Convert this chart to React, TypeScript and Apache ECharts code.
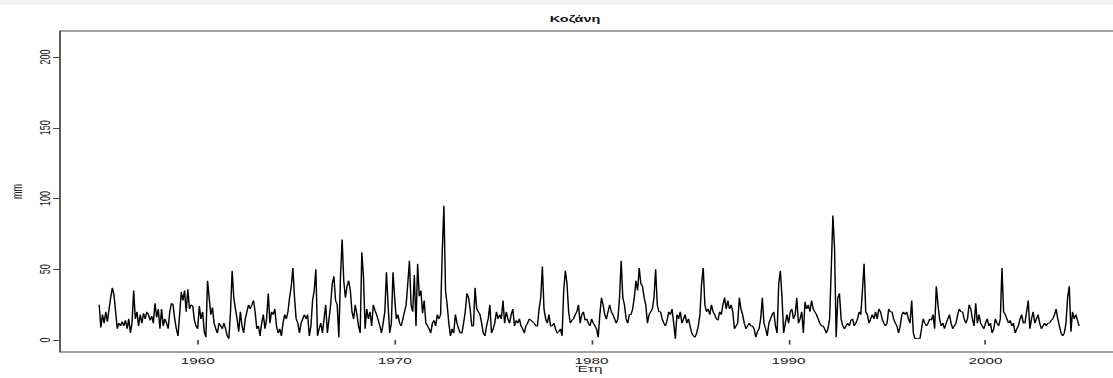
import React, { useEffect, useRef } from "react";
import * as echarts from "echarts";

// Monthly precipitation (mm), Kozani, starting January 1955
const startYear = 1955;

const rain1955_1964 = [
  25, 9, 18, 12, 20, 13, 22, 30, 37, 32, 20, 8,
  12, 10, 13, 10, 14, 8, 15, 5, 12, 35, 15, 20,
  10, 18, 12, 19, 15, 20, 18, 14, 17, 12, 26, 16,
  22, 8, 22, 10, 15, 12, 8, 20, 26, 25, 15, 8,
  3, 18, 34, 28, 35, 20, 36, 22, 25, 24, 14, 10,
  8, 24, 15, 20, 6, 2, 42, 30, 18, 23, 12, 8,
  5, 12, 10, 8, 12, 8, 3, 1, 20, 49, 30, 22,
  15, 6, 20, 10, 5, 15, 20, 25, 22, 25, 28, 20,
  8, 10, 3, 12, 18, 8, 15, 33, 12, 20, 18, 22,
  10, 5, 8, 3, 12, 18, 15, 20, 30, 38, 51, 30,
];

const rain1965_1974 = [
  15, 12, 5, 12, 15, 18, 15, 18, 3, 10, 28, 35,
  50, 3, 8, 12, 5, 15, 25, 5, 15, 25, 40, 45,
  28, 25, 2, 45, 71, 42, 30, 38, 42, 35, 20, 15,
  25, 18, 10, 5, 62, 45, 8, 22, 15, 20, 10, 25,
  21, 18, 14, 10, 5, 12, 20, 48, 25, 5, 12, 48,
  30, 15, 18, 12, 10, 15, 20, 25, 40, 56, 25, 20,
  46, 10, 54, 31, 35, 19, 28, 12, 10, 8, 5, 12,
  14, 10, 18, 15, 18, 62, 95, 35, 25, 12, 3, 8,
  5, 18, 12, 8, 5, 5, 12, 20, 33, 30, 22, 10,
  10, 37, 22, 20, 18, 12, 5, 3, 10, 15, 25, 5,
];

const rain1975_1984 = [
  8, 12, 20, 15, 18, 15, 28, 12, 20, 15, 12, 18,
  22, 10, 14, 12, 15, 10, 8, 5, 10, 12, 15, 14,
  13, 12, 10, 10, 22, 30, 52, 22, 15, 12, 18, 10,
  10, 12, 8, 5, 6, 8, 3, 35, 49, 40, 20, 12,
  14, 15, 18, 20, 25, 12, 18, 20, 14, 15, 12, 10,
  15, 12, 10, 8, 2, 18, 30, 25, 18, 15, 20, 25,
  20, 18, 15, 12, 15, 30, 56, 30, 25, 15, 12, 18,
  18, 22, 30, 42, 35, 51, 40, 38, 30, 25, 12, 18,
  20, 22, 30, 50, 25, 20, 20, 15, 12, 10, 14, 20,
  18, 22, 12, 1, 18, 15, 20, 12, 15, 18, 12, 15,
];

const rain1985_1994 = [
  10, 5, 3, 2, 5, 10, 18, 40, 51, 25, 20, 22,
  18, 25, 20, 18, 15, 14, 20, 18, 25, 30, 22, 28,
  22, 25, 20, 8, 10, 12, 30, 22, 18, 12, 8, 10,
  12, 10, 10, 8, 2, 6, 8, 15, 30, 12, 8, 3,
  12, 15, 18, 20, 10, 5, 40, 49, 30, 5, 12, 18,
  12, 20, 22, 15, 18, 30, 12, 15, 20, 5, 27, 22,
  25, 20, 28, 22, 20, 18, 15, 12, 10, 10, 8, 5,
  8, 15, 50, 88, 65, 2, 30, 33, 15, 10, 8, 10,
  12, 10, 14, 15, 10, 12, 15, 20, 18, 35, 54, 20,
  18, 12, 15, 18, 15, 20, 15, 22, 20, 15, 12, 10,
];

const rain1995_2004 = [
  12, 22, 20, 20, 15, 12, 10, 5, 10, 18, 20, 18,
  20, 15, 12, 28, 5, 1, 1, 1, 1, 8, 15, 12,
  10, 12, 15, 14, 18, 8, 38, 25, 15, 10, 12, 8,
  12, 15, 18, 12, 8, 10, 12, 18, 22, 20, 20, 15,
  12, 15, 25, 22, 15, 10, 26, 12, 18, 12, 10, 8,
  12, 15, 10, 12, 5, 8, 15, 12, 10, 15, 51, 20,
  18, 15, 12, 14, 10, 12, 5, 8, 10, 15, 18, 12,
  12, 20, 28, 8, 15, 20, 12, 15, 18, 12, 8, 10,
  12, 10, 12, 12, 14, 15, 18, 22, 15, 10, 5, 3,
  5, 12, 30, 38, 6, 20, 15, 18, 14, 10,
];

const xTicks = [1960, 1970, 1980, 1990, 2000];
const yTicks = [0, 50, 100, 150, 200];

const titleText = "Κοζάνη";
const xName = "Έτη";
const yName = "mm";

// the reference picture is horizontally stretched
const STRETCH = 1.7;
const FULL_W = 1125;
const H = 378;

export default function App() {
  const ref = useRef<HTMLDivElement>(null);

  useEffect(() => {
    document.body.style.overflow = "hidden";
    const el = ref.current!;
    const chart = echarts.init(el, null, { renderer: "svg" });
    const values = [
      ...rain1955_1964,
      ...rain1965_1974,
      ...rain1975_1984,
      ...rain1985_1994,
      ...rain1995_2004,
    ];
    const data = values.map((v, i) => [startYear + i / 12, v]);
    const first = startYear;
    const last = startYear + (values.length - 1) / 12;
    const ext = (last - first) * 0.04;
    const yMaxLim = 210;
    const yExt = yMaxLim * 0.04;
    const font = "'Liberation Sans', Arial, sans-serif";
    const ink = "#222";
    const boxColor = "#444";

    chart.setOption({
      animation: false,
      backgroundColor: "#ffffff",
      grid: {
        left: 60 / STRETCH,
        top: 31,
        width: (1118.3 - 60) / STRETCH,
        height: 321,
        show: true,
        borderColor: boxColor,
        borderWidth: 1,
        backgroundColor: "transparent",
        containLabel: false,
        outerBoundsMode: "none",
      },
      xAxis: {
        type: "value",
        min: first - ext,
        max: last + ext,
        name: xName,
        nameLocation: "middle",
        nameGap: 13,
        nameMoveOverlap: false,
        nameTextStyle: { fontFamily: font, fontSize: 9, color: ink },
        axisLine: { show: false },
        splitLine: { show: false },
        axisTick: {
          show: true,
          length: 4.5,
          lineStyle: { color: boxColor, width: 1 },
          customValues: xTicks,
        },
        axisLabel: {
          show: true,
          margin: 5,
          fontFamily: font,
          fontSize: 9,
          color: ink,
          customValues: xTicks,
          formatter: (v: number) => String(Math.round(v)),
        },
      },
      yAxis: {
        type: "value",
        min: -yExt,
        max: yMaxLim + yExt,
        name: yName,
        nameLocation: "middle",
        nameRotate: 90,
        nameGap: 21,
        nameMoveOverlap: false,
        nameTextStyle: { fontFamily: font, fontSize: 9, color: ink },
        axisLine: { show: false },
        splitLine: { show: false },
        axisTick: {
          show: true,
          length: 4,
          lineStyle: { color: boxColor, width: 1 },
          customValues: yTicks,
        },
        axisLabel: {
          show: true,
          rotate: 90,
          margin: 4.5,
          fontFamily: font,
          fontSize: 9,
          color: ink,
          customValues: yTicks,
          formatter: (v: number) => String(Math.round(v)),
        },
      },
      graphic: [
        {
          type: "rect",
          shape: { x: 0, y: 0, width: FULL_W / STRETCH, height: 5 },
          style: { fill: "#f2f2f2" },
          silent: true,
        },
        {
          type: "text",
          x: 575 / STRETCH,
          y: 19,
          style: {
            text: titleText,
            font: `bold 8.5px ${font}`,
            fill: "#111",
            textAlign: "center",
            textVerticalAlign: "middle",
          },
        },
      ],
      series: [
        {
          type: "line",
          data,
          showSymbol: false,
          symbol: "none",
          lineStyle: { color: "#000", width: 0.85 },
          silent: true,
        },
      ],
    });
    return () => chart.dispose();
  }, []);

  return (
    <div
      ref={ref}
      style={{
        position: "fixed",
        left: 0,
        top: 0,
        width: FULL_W / STRETCH,
        height: H,
        transform: `scaleX(${STRETCH})`,
        transformOrigin: "0 0",
      }}
    />
  );
}
